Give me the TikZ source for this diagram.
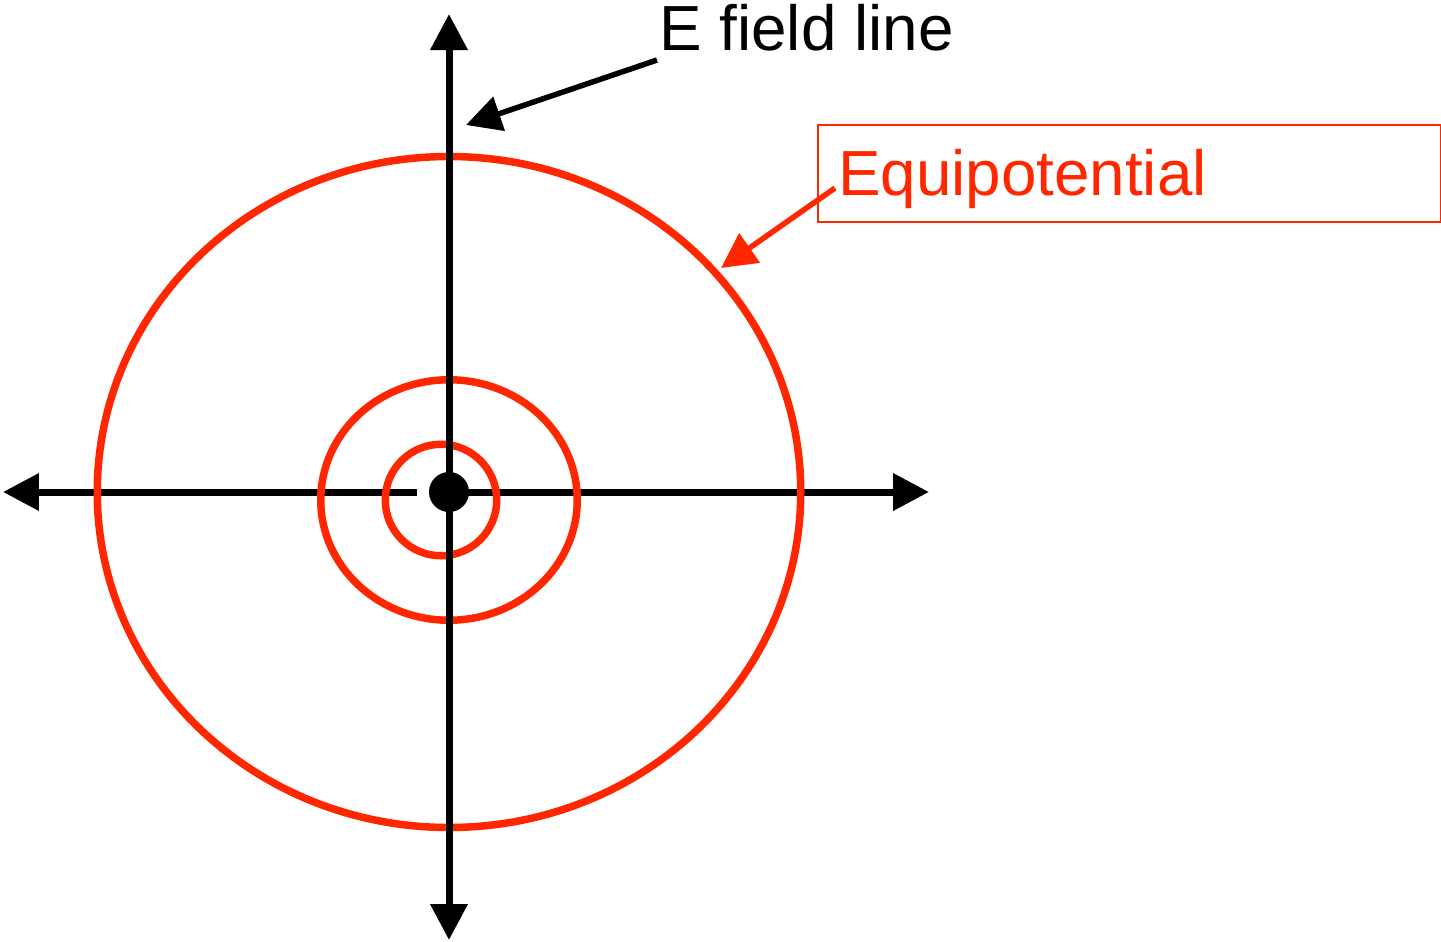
\documentclass[tikz,border=0pt]{standalone}
\usepackage{fontspec}
\setmainfont{Liberation Sans}
\usetikzlibrary{arrows.meta}
\definecolor{eqred}{RGB}{255,38,0}

\begin{document}
\begin{tikzpicture}[x=0.02cm, y=-0.02cm, >={Triangle[length=0.72cm, width=0.72cm]}]
  \def\cx{449}   % charge position (px)
  \def\cy{492}
  \tikzset{
    axis/.style={line width=0.14cm},
    equi/.style={eqred, line width=0.15cm},
    pointer/.style={line width=0.11cm, -{Triangle[length=0.7cm, width=0.7cm]}},
    lbl/.style={font=\fontsize{36.3}{40}\selectfont, inner sep=0pt},
    charge/.style={circle, fill=black, minimum size=0.8cm, inner sep=0pt},
  }
  \useasboundingbox (0,0) rectangle (1441,941);

  % ----- axes -----
  \coordinate (xl) at (3,\cy);
  \coordinate (xgap) at (417,\cy);
  \coordinate (xr) at (929,\cy);
  \coordinate (yt) at (\cx,14);
  \coordinate (yb) at (\cx,940);
  \draw[axis, <-] (xl) -- (xgap);
  \draw[axis, ->] (\cx,\cy) -- (xr);

  % ----- equipotentials -----
  \draw[equi] (\cx,\cy) ellipse [x radius=351.75, y radius=335.5];
  \draw[equi] (\cx,500) ellipse [x radius=128.25, y radius=120.25];
  \draw[equi] (441,500) circle [radius=55.75];

  \draw[axis, <->] (yb) -- (yt);
  \node[charge] (q) at (\cx,\cy) {};

  % ----- labels -----
  \node[lbl, anchor=base west] (fieldlabel) at (659,50) {E field line};
  \node[lbl, eqred, draw, line width=0.04cm, anchor=north west,
    inner xsep=0.4cm, text width=11.66cm, text height=1.42cm,
    text depth=0.52cm, align=left] (eqlabel) at (817,124) {Equipotential};

  \coordinate (fieldtip) at (466,125);
  \coordinate (eqtip) at (721,268);
  \draw[pointer] ([shift={(-2,10)}]fieldlabel.base west) -- (fieldtip);
  \draw[pointer, eqred] ([shift={(18,14.5)}]eqlabel.west) -- (eqtip);
\end{tikzpicture}
\end{document}
